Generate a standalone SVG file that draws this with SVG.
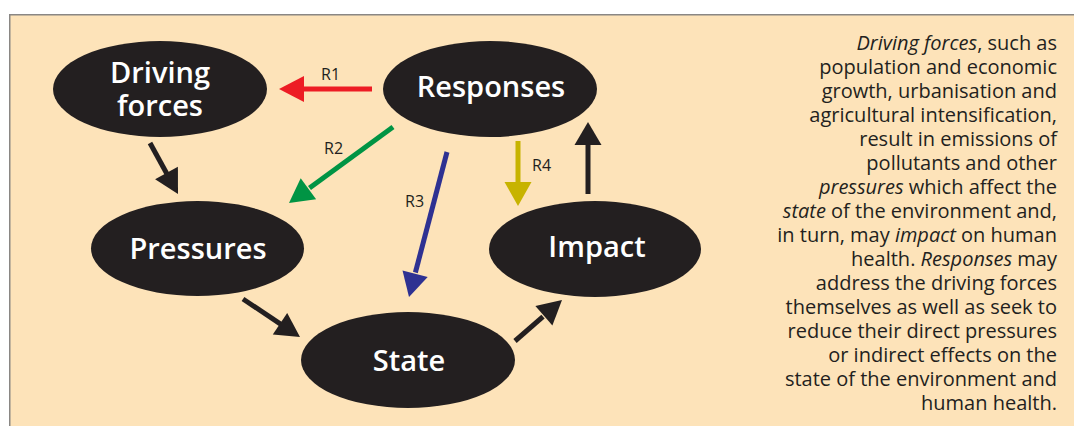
<svg xmlns="http://www.w3.org/2000/svg" width="1074" height="426" viewBox="0 0 1074 426">
  <style>
    .node { fill: #231f20; }
    .nlabel { font-family: "Open Sans", "Liberation Sans", sans-serif; font-weight: 600; font-size: 29px; fill: #ffffff; text-anchor: middle; }
    .rlabel { font-family: "Open Sans", "Liberation Sans", sans-serif; font-size: 16px; fill: #231f20; }
    .body { font-family: "Open Sans", "Liberation Sans", sans-serif; font-size: 20px; fill: #231f20; text-anchor: end; }
    .it { font-style: italic; }
    .shaft { stroke-width: 5; fill: none; }
  </style>
  <rect x="0" y="0" width="1074" height="426" fill="#ffffff"/>
  <rect x="9" y="14" width="1065" height="412" fill="#fde3b9"/>
  <path d="M9.75 426 V14.75 H1074" fill="none" stroke="#8a8784" stroke-width="1.5"/>

  <g id="connectors">
    <g id="r1">
      <line class="shaft" x1="372" y1="89" x2="302" y2="89" stroke="#ed1c24"/>
      <polygon points="279,89 304,76 304,102" fill="#ed1c24"/>
    </g>
    <g id="r2">
      <line class="shaft" x1="393" y1="127" x2="309.5" y2="188" stroke="#009444"/>
      <polygon points="289,203 316.1,199.3 300.7,178.3" fill="#009444"/>
    </g>
    <g id="r3">
      <line class="shaft" x1="447" y1="152" x2="415.4" y2="272.5" stroke="#2e3192"/>
      <polygon points="409,297 427.7,277.1 402.5,270.5" fill="#2e3192"/>
    </g>
    <g id="r4">
      <line class="shaft" x1="518" y1="141" x2="518" y2="183" stroke="#c7b300"/>
      <polygon points="518,206 504.5,182 531.5,182" fill="#c7b300"/>
    </g>
    <g id="impact-responses">
      <line class="shaft" x1="588" y1="194" x2="588" y2="144" stroke="#231f20"/>
      <polygon points="588,122 574.5,145 601.5,145" fill="#231f20"/>
    </g>
    <g id="driving-pressures">
      <line class="shaft" x1="150" y1="143" x2="167" y2="174" stroke="#231f20"/>
      <polygon points="178,194 177.9,166.7 155.1,179.3" fill="#231f20"/>
    </g>
    <g id="pressures-state">
      <line class="shaft" x1="243" y1="299" x2="281" y2="324.4" stroke="#231f20"/>
      <polygon points="300,337 287.2,312.9 272.8,334.5" fill="#231f20"/>
    </g>
    <g id="state-impact">
      <line class="shaft" x1="515" y1="341" x2="543" y2="316.6" stroke="#231f20"/>
      <polygon points="562,300 552.4,325.6 535.4,306" fill="#231f20"/>
    </g>
    <text class="rlabel" x="321" y="80">R1</text>
    <text class="rlabel" x="324" y="154">R2</text>
    <text class="rlabel" x="405" y="207">R3</text>
    <text class="rlabel" x="532" y="171">R4</text>
  </g>

  <g id="driving-forces">
    <ellipse class="node" cx="160" cy="89" rx="107" ry="48"/>
    <text class="nlabel" x="160" y="83">Driving</text>
    <text class="nlabel" x="160" y="116">forces</text>
  </g>
  <g id="responses">
    <ellipse class="node" cx="490" cy="89" rx="107" ry="48"/>
    <text class="nlabel" x="491" y="97">Responses</text>
  </g>
  <g id="pressures">
    <ellipse class="node" cx="197.5" cy="248.5" rx="106.5" ry="47.5"/>
    <text class="nlabel" x="198" y="259">Pressures</text>
  </g>
  <g id="impact">
    <ellipse class="node" cx="595" cy="249" rx="106" ry="48"/>
    <text class="nlabel" x="597" y="257">Impact</text>
  </g>
  <g id="state">
    <ellipse class="node" cx="408" cy="360" rx="107" ry="48"/>
    <text class="nlabel" x="409" y="371">State</text>
  </g>

  <g id="description">
    <text class="body" x="1057" y="49.5"><tspan class="it">Driving forces</tspan>, such as</text>
    <text class="body" x="1057" y="73.5">population and economic</text>
    <text class="body" x="1057" y="97.5">growth, urbanisation and</text>
    <text class="body" x="1057" y="121.5">agricultural intensification,</text>
    <text class="body" x="1057" y="145.5">result in emissions of</text>
    <text class="body" x="1057" y="169.5">pollutants and other</text>
    <text class="body" x="1057" y="193.5"><tspan class="it">pressures</tspan> which affect the</text>
    <text class="body" x="1057" y="217.5"><tspan class="it">state</tspan> of the environment and,</text>
    <text class="body" x="1057" y="241.5">in turn, may <tspan class="it">impact</tspan> on human</text>
    <text class="body" x="1057" y="265.5">health. <tspan class="it">Responses</tspan> may</text>
    <text class="body" x="1057" y="289.5">address the driving forces</text>
    <text class="body" x="1057" y="313.5">themselves as well as seek to</text>
    <text class="body" x="1057" y="337.5">reduce their direct pressures</text>
    <text class="body" x="1057" y="361.5">or indirect effects on the</text>
    <text class="body" x="1057" y="385.5">state of the environment and</text>
    <text class="body" x="1057" y="409.5">human health.</text>
  </g>
</svg>
